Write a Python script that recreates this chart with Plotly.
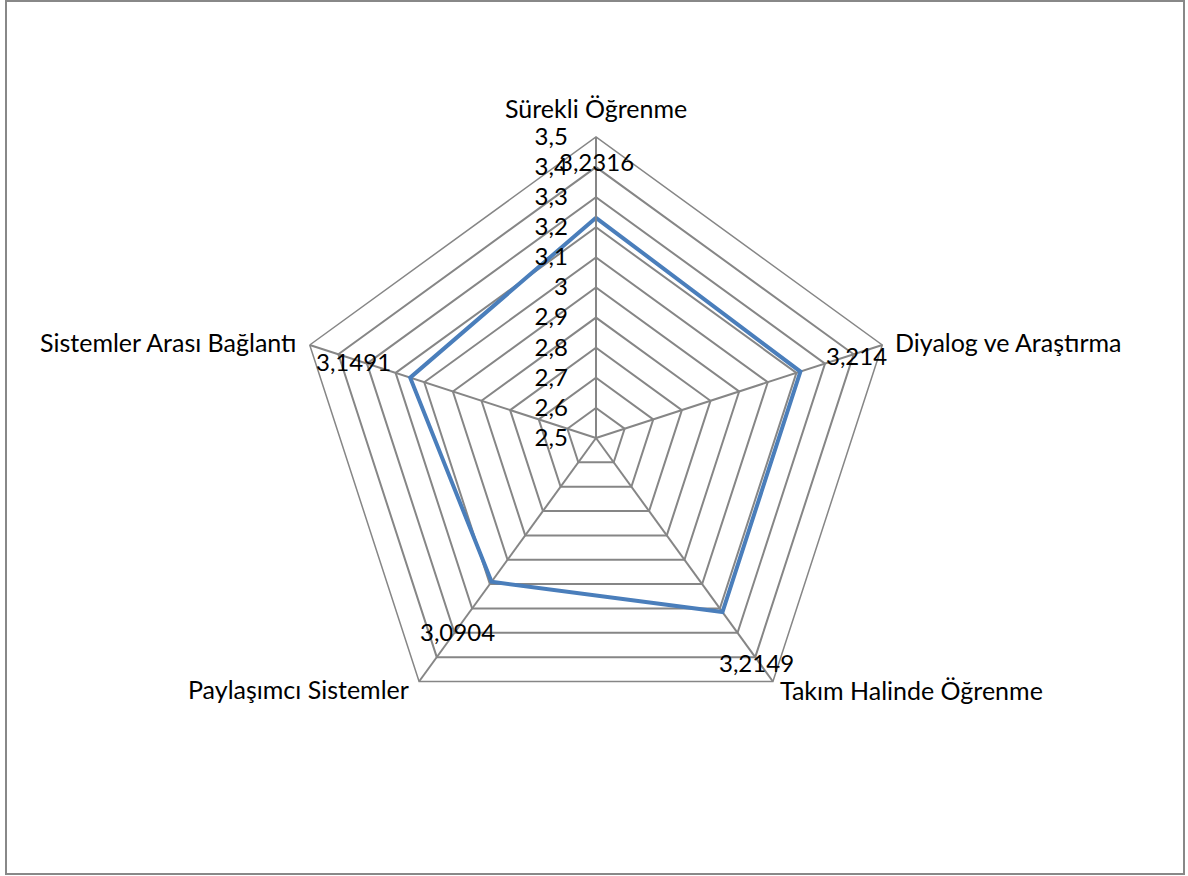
import plotly.graph_objects as go

# Radar data: learning-organisation dimension means
categories = [
    "Sürekli Öğrenme",
    "Diyalog ve Araştırma",
    "Takım Halinde Öğrenme",
    "Paylaşımcı Sistemler",
    "Sistemler Arası Bağlantı",
]
values = [3.2316, 3.214, 3.2149, 3.0904, 3.1491]

W, H = 1188, 876
CX, CY, R = 596, 438, 301  # radar centre and outer radius in pixels

GRID = "#868686"
LINE = "#4a7ebb"
FONT = "Lato"

fig = go.Figure()

fig.add_trace(go.Scatterpolar(
    r=values + values[:1],
    theta=categories + categories[:1],
    mode="lines",
    line=dict(color=LINE, width=4),
    hoverinfo="skip",
    showlegend=False,
))

annotations = []

# Value labels, placed as the spreadsheet laid them out (pixel positions)
label_pos = [(596, 161), (856, 355), (756, 662), (457, 631), (353, 361)]
for v, (px, py) in zip(values, label_pos):
    annotations.append(dict(
        x=px / W, y=1 - py / H, xref="paper", yref="paper",
        text=f"{v:g}".replace(".", ","), showarrow=False,
        font=dict(family=FONT, size=24, color="black"),
        xanchor="center", yanchor="middle",
    ))

# Category names around the outer pentagon (anchor x, centre y, alignment)
cat_pos = [(596, 108, "center"), (893, 342, "left"), (778, 690, "left"),
           (411, 689, "right"), (299, 342, "right")]
for name, (px, py, anchor) in zip(categories, cat_pos):
    annotations.append(dict(
        x=px / W, y=1 - py / H, xref="paper", yref="paper",
        text=name, showarrow=False,
        font=dict(family=FONT, size=25, color="black"),
        xanchor=anchor, yanchor="middle",
    ))

fig.update_layout(
    width=W, height=H,
    margin=dict(l=0, r=0, t=0, b=0),
    paper_bgcolor="white",
    plot_bgcolor="white",
    separators=",.",
    font=dict(family=FONT, size=24, color="black"),
    polar=dict(
        domain=dict(x=[(CX - R) / W, (CX + R) / W],
                    y=[(H - CY - R) / H, (H - CY + R) / H]),
        bgcolor="white",
        gridshape="linear",
        radialaxis=dict(
            range=[2.5, 3.5],
            tick0=2.5, dtick=0.1,
            angle=90,
            tickangle=90,
            side="counterclockwise",
            showline=True, linecolor=GRID, linewidth=1.5,
            gridcolor=GRID, gridwidth=1.5,
            ticks="outside", ticklen=19, tickcolor="rgba(0,0,0,0)",
            tickfont=dict(family=FONT, size=24, color="black"),
        ),
        angularaxis=dict(
            rotation=90,
            direction="clockwise",
            showline=True, linecolor=GRID, linewidth=1.5,
            gridcolor=GRID, gridwidth=1.5,
            ticks="",
            showticklabels=False,
        ),
    ),
    annotations=annotations,
    shapes=[dict(
        type="rect", xref="paper", yref="paper",
        x0=6 / W, x1=1184 / W, y0=1 - 874 / H, y1=1 - 1 / H,
        line=dict(color="#888888", width=2), fillcolor="rgba(0,0,0,0)",
    )],
)

fig.write_html("out.html")
